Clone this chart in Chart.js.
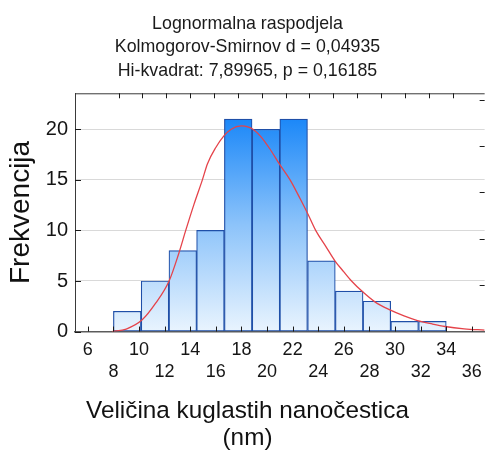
<!DOCTYPE html>
<html>
<head>
<meta charset="utf-8">
<script src="https://cdn.jsdelivr.net/npm/chart.js@4.4.1/dist/chart.umd.min.js"></script>
<style>
  html, body { margin: 0; padding: 0; background: #ffffff; overflow: hidden; }
  #wrap { position: relative; width: 489px; height: 455px; }
</style>
</head>
<body>
<div id="wrap"><canvas id="c"></canvas></div>
<script>
// ---- data ----
const titleLines = ['Lognormalna raspodjela', 'Kolmogorov-Smirnov d = 0,04935', 'Hi-kvadrat: 7,89965, p = 0,16185'];
const xTitleLines = ['Veličina kuglastih nanočestica', '(nm)'];
const yTitle = 'Frekvencija';

const binCenters = [9.08, 11.25, 13.42, 15.58, 17.75, 19.92, 22.08, 24.25, 26.42, 28.58, 30.75, 32.92];
const binCounts  = [2, 5, 8, 10, 21, 20, 21, 7, 4, 3, 1, 1];

const curveX = [7.9, 9.0, 10.25, 11.3, 12.35, 13.1, 13.65, 14.3, 14.95, 15.35, 16.0, 16.6, 17.2, 18.0, 18.5, 18.9, 19.5, 20.2, 21.0, 21.8, 22.6, 23.2, 23.8, 24.6, 25.3, 26.0, 26.6, 27.45, 28.4, 29.6, 30.7, 31.75, 32.9, 33.9, 35.4, 37.0];
const curveY = [0, 0.25, 1.16, 2.8, 5.0, 7.7, 10.0, 12.6, 15.0, 16.6, 18.2, 19.3, 20.0, 20.33, 20.25, 20.0, 19.3, 18.1, 16.5, 15.0, 13.1, 11.6, 10.0, 8.4, 7.0, 5.9, 5.0, 3.95, 2.96, 2.14, 1.55, 1.09, 0.75, 0.5, 0.27, 0.15];

const xTickValues = [6, 8, 10, 12, 14, 16, 18, 20, 22, 24, 26, 28, 30, 32, 34, 36];
const yTickValues = [0, 5, 10, 15, 20];
const topFrameTicks = [0, 1, 2, 3, 4, 5, 6, 7, 8, 9, 10, 11, 12, 13, 14];
const rightFrameTicks = [1, 2, 3, 4, 5];

// ---- chart ----
const FONT = '"Liberation Sans", Arial, sans-serif';
Chart.defaults.font.family = FONT;
Chart.defaults.color = '#151515';

const frameLines = {
  id: 'frameLines',
  afterDatasetsDraw(chart) {
    const { ctx, chartArea: a, scales } = chart;
    ctx.save();
    ctx.strokeStyle = '#3a3a3a';
    ctx.lineWidth = 1;
    ctx.beginPath();
    ctx.moveTo(a.left + 0.5, a.bottom);
    ctx.lineTo(a.left + 0.5, a.top + 0.5);
    ctx.lineTo(a.right, a.top + 0.5);
    ctx.stroke();
    ctx.strokeStyle = '#1a1a1a';
    ctx.beginPath();
    xTickValues.forEach(v => {
      const p = Math.round(scales.x.getPixelForValue(v)) + 0.5;
      ctx.moveTo(p, a.bottom); ctx.lineTo(p, a.bottom - 5);
    });
    yTickValues.forEach(v => {
      const p = Math.round(scales.y.getPixelForValue(v)) + 0.5;
      ctx.moveTo(a.left, p); ctx.lineTo(a.left + 6, p);
    });
    topFrameTicks.forEach(v => {
      const p = Math.round(scales.x2.getPixelForValue(v)) + 0.5;
      ctx.moveTo(p, a.top); ctx.lineTo(p, a.top + 5);
    });
    rightFrameTicks.forEach(v => {
      const p = Math.round(scales.y2.getPixelForValue(v)) + 0.5;
      ctx.moveTo(a.right, p); ctx.lineTo(a.right - 5, p);
    });
    ctx.stroke();
    ctx.restore();
  }
};

function barGradient(context) {
  const chart = context.chart;
  const a = chart.chartArea;
  if (!a) return '#8fc4f8';
  const g = chart.ctx.createLinearGradient(0, a.top, 0, a.bottom);
  g.addColorStop(0, '#0c7ef6');
  g.addColorStop(0.11, '#1c88f8');
  g.addColorStop(0.55, '#8cc3fa');
  g.addColorStop(1, '#e9f4fe');
  return g;
}

new Chart(document.getElementById('c'), {
  type: 'bar',
  data: {
    datasets: [
      {
        type: 'line',
        data: curveX.map((x, i) => ({ x: x, y: curveY[i] })),
        xAxisID: 'x',
        yAxisID: 'y',
        borderColor: '#e5434a',
        borderWidth: 1.3,
        pointRadius: 0,
        fill: false,
        cubicInterpolationMode: 'monotone',
        order: 0
      },
      {
        type: 'bar',
        data: binCenters.map((x, i) => ({ x: x, y: binCounts[i] })),
        xAxisID: 'xBars',
        yAxisID: 'y',
        backgroundColor: barGradient,
        borderColor: '#1f4fa8',
        borderWidth: 1.2,
        borderSkipped: false,
        grouped: false,
        barPercentage: 1,
        categoryPercentage: 1,
        order: 1
      }
    ]
  },
  options: {
    responsive: true,
    maintainAspectRatio: false,
    animation: false,
    devicePixelRatio: 1,
    layout: { padding: { left: 6, right: 0, top: 0, bottom: 0 } },
    plugins: {
      legend: { display: false },
      tooltip: { enabled: false },
      title: {
        display: true,
        text: titleLines,
        font: { size: 17.8, weight: 'normal', lineHeight: 1.32 },
        color: '#1a1a1a',
        padding: { top: 12, bottom: 10.8 }
      },
      subtitle: {
        display: true,
        position: 'bottom',
        text: xTitleLines,
        font: { size: 24.3, weight: 'normal', lineHeight: 1.11 },
        color: '#111',
        padding: { top: 0, bottom: 3.5 }
      }
    },
    scales: {
      x: {
        type: 'linear',
        position: 'bottom',
        min: 5,
        max: 37,
        offset: false,
        afterBuildTicks: s => { s.ticks = xTickValues.map(v => ({ value: v })); },
        afterFit: s => { s.height = 66; },
        grid: { display: false, drawTicks: false },
        border: { display: true, color: '#5c5c5c', width: 1.6 },
        ticks: {
          autoSkip: false,
          maxRotation: 0,
          minRotation: 0,
          padding: 7,
          font: { size: 18, lineHeight: 1.25 },
          color: '#151515',
          callback: (v, i) => (i % 2 === 0 ? [String(v), ''] : ['', String(v)])
        }
      },
      xBars: {
        type: 'linear',
        display: false,
        min: 5,
        max: 37,
        offset: false,
        afterBuildTicks: s => { s.ticks = binCenters.map(v => ({ value: v })); }
      },
      x2: {
        type: 'linear',
        display: false,
        position: 'top',
        min: -0.751,
        max: 14.27
      },
      y: {
        type: 'linear',
        position: 'left',
        min: 0,
        max: 23.56,
        afterBuildTicks: s => { s.ticks = yTickValues.map(v => ({ value: v })); },
        afterFit: s => { s.width = 69; },
        grid: { color: '#d9d9d9', lineWidth: 1, drawTicks: false },
        border: { display: true, color: '#3a3a3a', width: 1 },
        ticks: {
          padding: 7,
          font: { size: 20 },
          color: '#151515'
        },
        title: {
          display: true,
          text: yTitle,
          font: { size: 28, lineHeight: 1 },
          color: '#111',
          padding: { top: 1, bottom: 0 }
        }
      },
      y2: {
        type: 'linear',
        display: false,
        position: 'right',
        min: 0,
        max: 5.14
      }
    }
  },
  plugins: [frameLines]
});
</script>
</body>
</html>
